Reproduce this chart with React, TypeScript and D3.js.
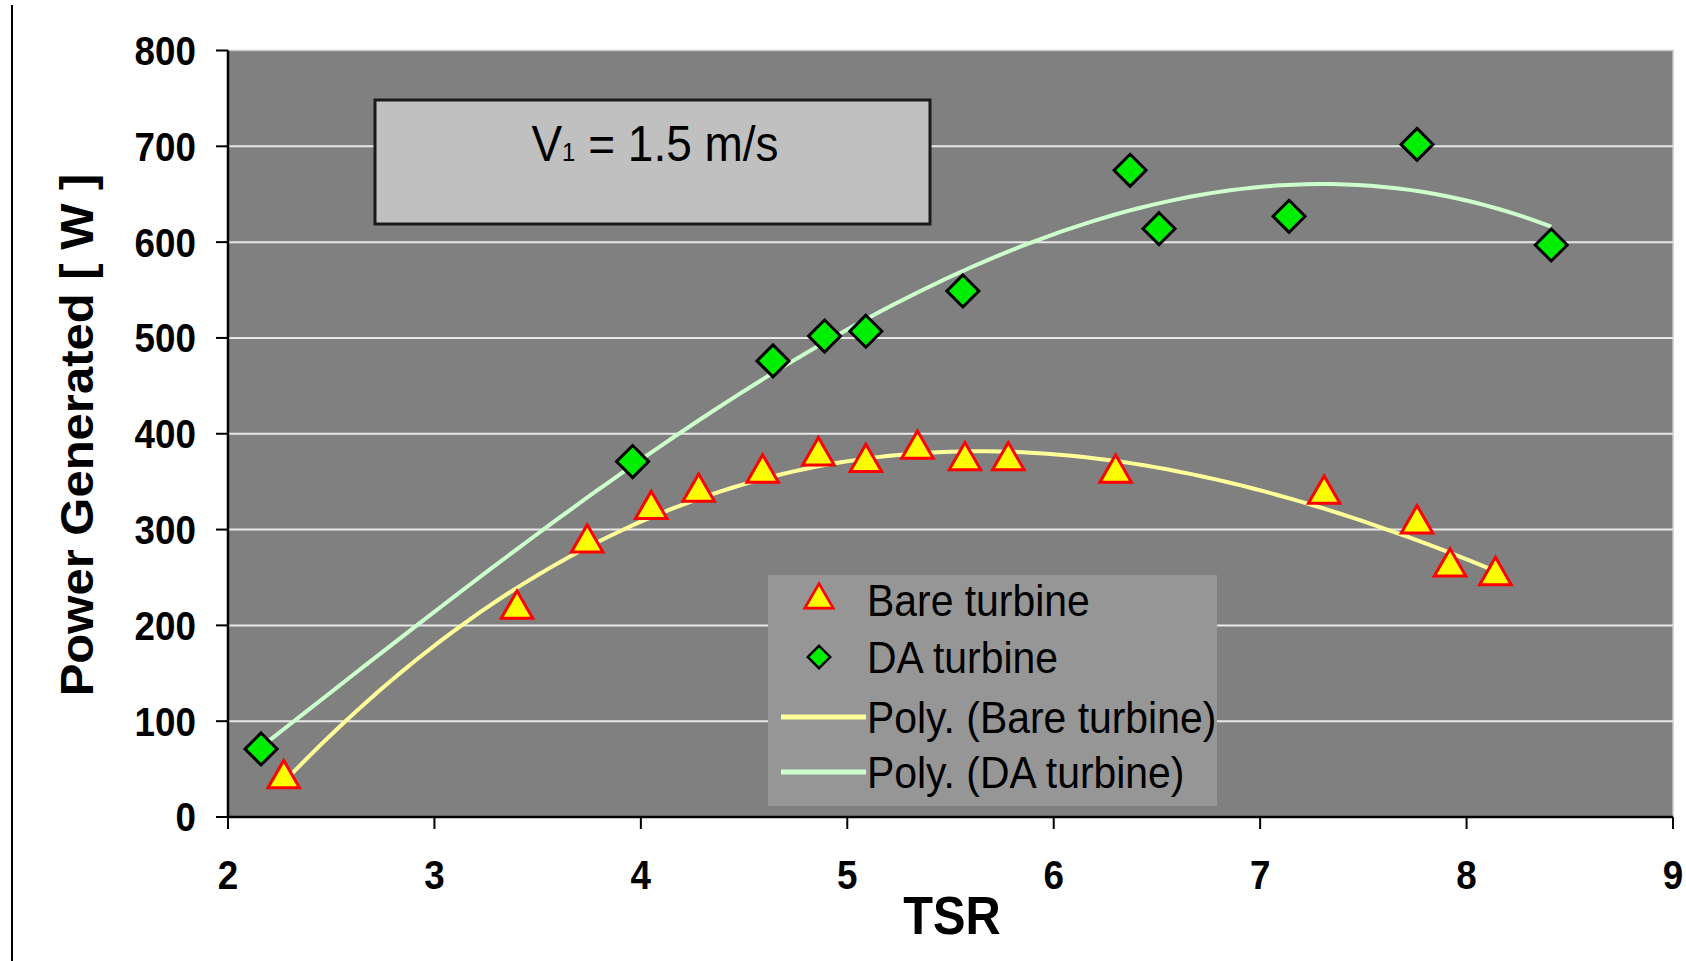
import React from "react";
import * as d3 from "d3";

// TSR / power readings for each turbine
const bareTsr = [2.27, 3.4, 3.74, 4.05, 4.28, 4.59, 4.86, 5.09, 5.34, 5.57, 5.78, 6.3, 7.31, 7.76, 7.92, 8.14];
const barePower = [40, 217, 286, 321, 339, 359, 377, 370, 384, 372, 372, 359, 337, 306, 261, 252];
const daTsr = [2.16, 3.96, 4.64, 4.89, 5.09, 5.56, 6.37, 6.51, 7.14, 7.76, 8.41];
const daPower = [71, 371, 476, 502, 507, 549, 675, 614, 627, 702, 597];

const xTicks = [2, 3, 4, 5, 6, 7, 8, 9];
const yTicks = [0, 100, 200, 300, 400, 500, 600, 700, 800];
const legendLabels = ["Bare turbine", "DA turbine", "Poly. (Bare turbine)", "Poly. (DA turbine)"];

const W = 1686;
const H = 961;
const left = 228, right = 1673, top = 50.5, bottom = 817;
const FONT = "'Liberation Sans', Arial, sans-serif";

// least squares polynomial fit, like Excel's "Poly." trendline
function polyfit(xs: number[], ys: number[], order: number) {
  const n = order + 1;
  const A: number[][] = [];
  for (let i = 0; i < n; i++) {
    A.push([]);
    for (let j = 0; j < n; j++) A[i].push(d3.sum(xs, (x) => Math.pow(x, i + j)));
    A[i].push(d3.sum(xs, (x, k) => Math.pow(x, i) * ys[k]));
  }
  for (let c = 0; c < n; c++) {
    let p = c;
    for (let r = c + 1; r < n; r++) if (Math.abs(A[r][c]) > Math.abs(A[p][c])) p = r;
    [A[c], A[p]] = [A[p], A[c]];
    for (let r = 0; r < n; r++) {
      if (r === c) continue;
      const f = A[r][c] / A[c][c];
      for (let k = c; k <= n; k++) A[r][k] -= f * A[c][k];
    }
  }
  const coef = A.map((row, i) => row[n] / row[i]);
  return (x: number) => coef.reduce((s, a, i) => s + a * Math.pow(x, i), 0);
}

export default function App() {
  const x = d3.scaleLinear().domain([2, 9]).range([left, right]);
  const y = d3.scaleLinear().domain([0, 800]).range([bottom, top]);

  const trend = (xs: number[], ys: number[]) => {
    const f = polyfit(xs, ys, 3);
    const [a, b] = d3.extent(xs) as [number, number];
    const pts = d3.range(0, 101).map((i) => a + ((b - a) * i) / 100);
    return d3.line<number>().x((t) => x(t)).y((t) => y(f(t)))(pts) || "";
  };

  const tri = d3.symbol().type(d3.symbolTriangle).size(430)() || "";
  const dia = "M0,-16L16,0L0,16L-16,0Z";

  const legX = 768, legY = 575;
  const rowY = [600, 657, 717, 772];

  return (
    <svg width={W} height={H} style={{ position: "absolute", left: 0, top: 0, background: "#fff" }}>
      <line x1={12} x2={12} y1={5} y2={H} stroke="#000" strokeWidth={2} />
      <rect x={left} y={top} width={right - left} height={bottom - top} fill="#808080" stroke="#c8c8c8" strokeWidth={1.5} />
      {yTicks.slice(1, -1).map((t) => (
        <line key={t} x1={left} x2={right} y1={y(t)} y2={y(t)} stroke="#e8e8e8" strokeWidth={2} />
      ))}

      <rect x={375} y={100} width={555} height={124} fill="#c0c0c0" stroke="#1a1a1a" strokeWidth={3} />
      <text transform="translate(655,161) scale(0.92,1)" textAnchor="middle" fontFamily={FONT} fontSize={50} fill="#000">
        V<tspan fontSize={26}>1</tspan> = 1.5 m/s
      </text>

      <path d={trend(bareTsr, barePower)} fill="none" stroke="#ffff99" strokeWidth={4} />
      <path d={trend(daTsr, daPower)} fill="none" stroke="#ccffcc" strokeWidth={4} />

      {daTsr.map((t, i) => (
        <path key={"d" + i} d={dia} transform={`translate(${x(t)},${y(daPower[i])})`} fill="#00ee00" stroke="#000" strokeWidth={3} />
      ))}
      {bareTsr.map((t, i) => (
        <path key={"b" + i} d={tri} transform={`translate(${x(t)},${y(barePower[i])})`} fill="#ffff00" stroke="#ff0000" strokeWidth={3} />
      ))}

      {/* axes */}
      <line x1={left} x2={left} y1={top} y2={bottom} stroke="#000" strokeWidth={2.5} />
      <line x1={left} x2={right} y1={bottom} y2={bottom} stroke="#000" strokeWidth={2.5} />
      {yTicks.map((t) => (
        <g key={t}>
          <line x1={left - 12} x2={left} y1={y(t)} y2={y(t)} stroke="#000" strokeWidth={2} />
          <text transform={`translate(196,${y(t)}) scale(0.92,1)`} dy="0.36em" textAnchor="end" fontFamily={FONT} fontWeight="bold" fontSize={40}>
            {t}
          </text>
        </g>
      ))}
      {xTicks.map((t) => (
        <g key={t}>
          <line x1={x(t)} x2={x(t)} y1={bottom} y2={bottom + 12} stroke="#000" strokeWidth={2} />
          <text transform={`translate(${x(t)},889) scale(0.92,1)`} textAnchor="middle" fontFamily={FONT} fontWeight="bold" fontSize={40}>
            {t}
          </text>
        </g>
      ))}
      <text transform="translate(952,934) scale(0.92,1)" textAnchor="middle" fontFamily={FONT} fontWeight="bold" fontSize={53}>
        TSR
      </text>
      <text transform={`translate(93,435) rotate(-90) scale(1,0.95)`} textAnchor="middle" fontFamily={FONT} fontWeight="bold" fontSize={49}>
        Power Generated [ W ]
      </text>

      {/* legend */}
      <rect x={legX} y={legY} width={449} height={231} fill="#969696" />
      <path d={tri} transform={`translate(819,${rowY[0]}) scale(0.9)`} fill="#ffff00" stroke="#ff0000" strokeWidth={3} />
      <path d={dia} transform={`translate(819,${rowY[1]}) scale(0.7)`} fill="#00ee00" stroke="#000" strokeWidth={3.5} />
      <line x1={781} x2={866} y1={rowY[2]} y2={rowY[2]} stroke="#ffff99" strokeWidth={5} />
      <line x1={781} x2={866} y1={rowY[3]} y2={rowY[3]} stroke="#ccffcc" strokeWidth={5} />
      {legendLabels.map((l, i) => (
        <text key={l} transform={`translate(867,${rowY[i]}) scale(0.93,1)`} dy="0.36em" fontFamily={FONT} fontSize={44} fill="#000">
          {l}
        </text>
      ))}
    </svg>
  );
}
